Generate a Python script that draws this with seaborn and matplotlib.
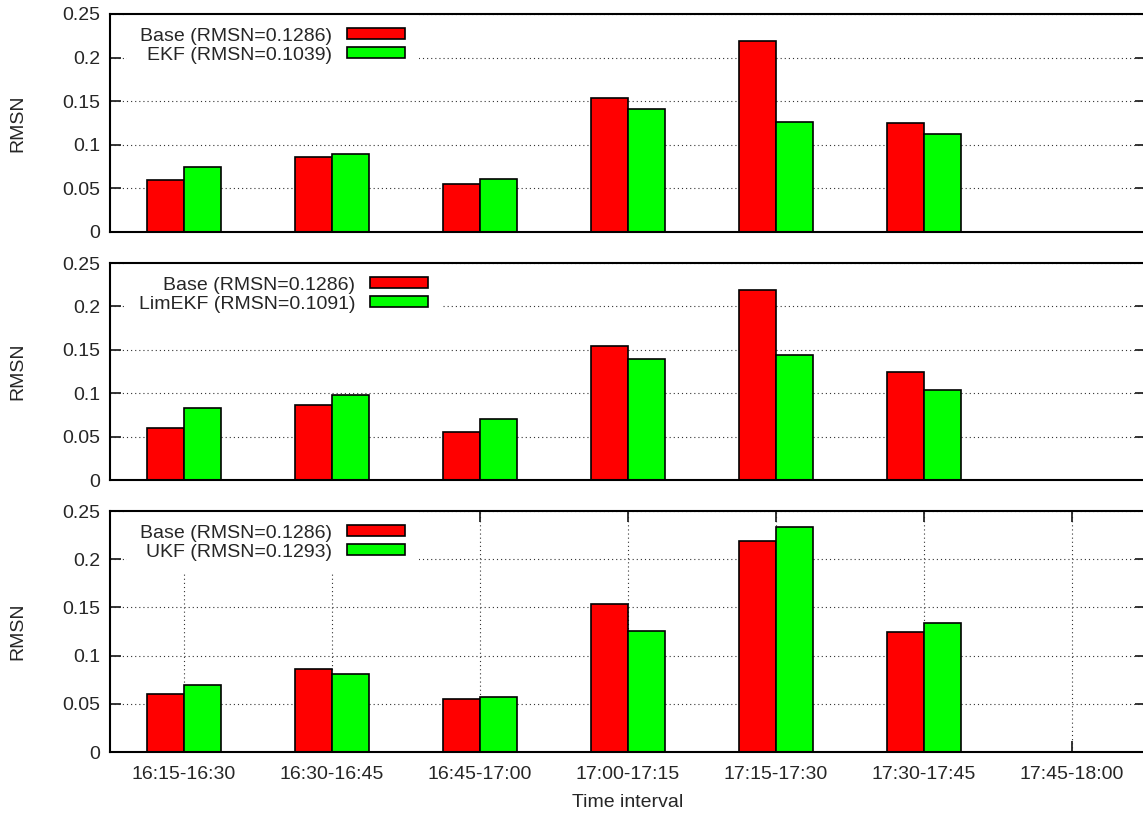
import numpy as np
import pandas as pd
import matplotlib
matplotlib.use("Agg")
import matplotlib.pyplot as plt
import seaborn as sns

# Time intervals on the x axis (the last one has no measurements)
intervals = ["16:15-16:30", "16:30-16:45", "16:45-17:00", "17:00-17:15",
             "17:15-17:30", "17:30-17:45", "17:45-18:00"]

# RMSN per interval
base_rmsn = [0.060, 0.086, 0.055, 0.154, 0.219, 0.125, np.nan]
ekf_rmsn = [0.075, 0.089, 0.061, 0.141, 0.126, 0.112, np.nan]
limekf_rmsn = [0.083, 0.098, 0.070, 0.139, 0.144, 0.104, np.nan]
ukf_rmsn = [0.069, 0.081, 0.057, 0.126, 0.233, 0.134, np.nan]

base_label = "Base (RMSN=0.1286)"
filter_labels = ["EKF (RMSN=0.1039)", "LimEKF (RMSN=0.1091)", "UKF (RMSN=0.1293)"]
filter_series = [ekf_rmsn, limekf_rmsn, ukf_rmsn]

yticks = [0, 0.05, 0.1, 0.15, 0.2, 0.25]
ytick_labels = ["0", "0.05", "0.1", "0.15", "0.2", "0.25"]
x_label = "Time interval"
y_label = "RMSN"

sns.set_style("white")
plt.rcParams["font.family"] = ["Liberation Sans", "DejaVu Sans"]
plt.rcParams["font.size"] = 14

W, H = 1143, 813
fig = plt.figure(figsize=(W / 100, H / 100), dpi=100)

# panel boxes in pixels: (top, bottom)
panel_px = [(14, 232), (263, 480), (511, 752)]
ax_left, ax_right = 110, 1146
legend_right_px = [419, 442, 419]

palette = ["#ff0000", "#00ff00"]
grid_style = dict(color="0.2", linewidth=0.8, linestyle=(0, (1, 2.7)))

for i, (filt_label, filt_vals) in enumerate(zip(filter_labels, filter_series)):
    top, bottom = panel_px[i]
    ax = fig.add_axes([ax_left / W, (H - bottom) / H,
                       (ax_right - ax_left) / W, (bottom - top) / H])

    df = pd.DataFrame({
        "interval": intervals * 2,
        "series": [base_label] * len(intervals) + [filt_label] * len(intervals),
        "rmsn": list(base_rmsn) + list(filt_vals),
    }).dropna()

    sns.barplot(data=df, x="interval", y="rmsn", hue="series",
                order=intervals, hue_order=[base_label, filt_label],
                palette=palette, saturation=1, width=0.5, errorbar=None,
                edgecolor="black", linewidth=1.2, ax=ax)

    ax.set_xlim(-0.5, len(intervals) - 0.5)
    ax.set_ylim(0, 0.25)
    ax.set_yticks(yticks)
    ax.set_yticklabels(ytick_labels)
    ax.set_axisbelow(True)
    ax.grid(axis="y", **grid_style)

    for sp in ax.spines.values():
        sp.set_linewidth(1.5)
        sp.set_color("black")
        sp.set_zorder(10)

    ax.tick_params(axis="y", which="both", direction="in", length=8, width=1.3,
                   left=True, right=True, pad=7, labelsize=14)

    ax.set_ylabel(y_label, fontsize=14)
    ax.yaxis.set_label_coords(-(ax_left - 18) / (ax_right - ax_left), 0.5)
    ax.yaxis.label.set_va("center")

    if i < 2:
        ax.tick_params(axis="x", which="both", bottom=False, top=False,
                       labelbottom=False)
        ax.set_xlabel("")
    else:
        ax.grid(axis="x", **grid_style)
        ax.tick_params(axis="x", which="both", direction="in", length=8,
                       width=1.3, bottom=True, top=True, pad=10, labelsize=14)
        ax.set_xlabel(x_label, fontsize=14)
        ax.xaxis.set_label_coords(0.5, -(802 - bottom) / (bottom - top))
        ax.xaxis.label.set_va("center")

    handles, labels = ax.get_legend_handles_labels()
    leg = ax.legend(handles, labels, loc="upper right",
                    bbox_to_anchor=((legend_right_px[i] - ax_left) / (ax_right - ax_left), 1.0),
                    borderaxespad=0, markerfirst=False, frameon=True,
                    facecolor="white", edgecolor="none", framealpha=1,
                    fancybox=False, fontsize=14, labelspacing=0.1,
                    handlelength=3.0, handleheight=0.45, handletextpad=0.75,
                    borderpad=0.7)
    leg.set_zorder(5)

fig.savefig("out.png", dpi=100)
